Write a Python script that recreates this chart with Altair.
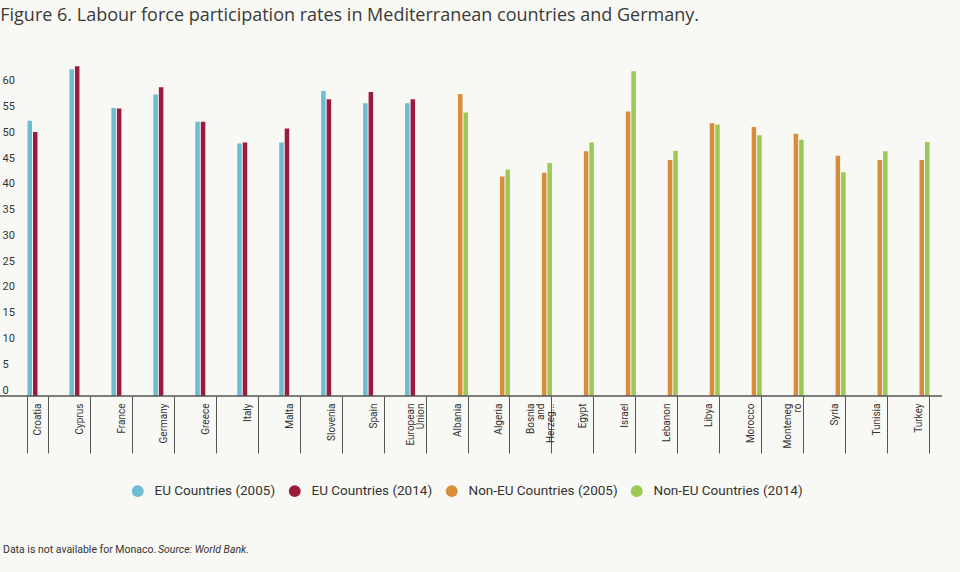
import altair as alt
import pandas as pd

# ---- data ----
countries = ["Croatia", "Cyprus", "France", "Germany", "Greece", "Italy", "Malta",
             "Slovenia", "Spain", "European|Union",
             "Albania", "Algeria", "Bosnia|and|Herzeg...", "Egypt", "Israel", "Lebanon",
             "Libya", "Morocco", "Monteneg|ro", "Syria", "Tunisia", "Turkey"]

eu_2005 = [53.4, 63.4, 55.9, 58.5, 53.2, 49.0, 49.2, 59.2, 56.8, 56.8] + [None] * 12
eu_2014 = [51.2, 64.0, 55.8, 59.9, 53.2, 49.2, 51.9, 57.6, 59.0, 57.6] + [None] * 12
noneu_2005 = [None] * 10 + [58.6, 42.6, 43.3, 47.5, 55.2, 45.8, 52.9, 52.2, 50.9, 46.6, 45.8, 45.8]
noneu_2014 = [None] * 10 + [55.0, 43.9, 45.2, 49.2, 63.0, 47.6, 52.7, 50.6, 49.7, 43.4, 47.5, 49.3]

series_names = ["EU Countries (2005)", "EU Countries (2014)",
                "Non-EU Countries (2005)", "Non-EU Countries (2014)"]
series_colors = ["#6dbcd1", "#9c1b3c", "#d98d3b", "#9cc856"]
y_ticks = list(range(0, 61, 5))

title_text = "Figure 6. Labour force participation rates in Mediterranean countries and Germany."
foot_parts = ["Data is not available for Monaco.", "Source: World Bank."]

rows = []
for name, vals in zip(series_names, [eu_2005, eu_2014, noneu_2005, noneu_2014]):
    for c, v in zip(countries, vals):
        if v is not None:
            rows.append({"country": c, "series": name, "value": v})
df = pd.DataFrame(rows)

FONT = "Roboto, sans-serif"
W, H = 923, 335
LH = 10

label_shift = {
    "condition": [
        {"test": "length(split(datum.value, '|')) == 2", "value": -LH / 2},
        {"test": "length(split(datum.value, '|')) == 3", "value": -LH},
    ],
    "value": 0,
}

bars = alt.Chart(df).mark_bar().encode(
    x=alt.X("country:N", sort=countries,
            scale=alt.Scale(domain=countries, paddingInner=0.5, paddingOuter=0.25),
            axis=alt.Axis(title=None, labelAngle=270, labelAlign="right", labelBaseline="middle",
                          labelExpr="split(datum.label, '|')", labelFont=FONT, labelFontSize=10,
                          labelColor="#333333", labelLineHeight=LH, labelOffset=label_shift,
                          bandPosition=1, tickExtra=True, tickSize=57, tickColor="#555555",
                          tickWidth=1, labelPadding=-50, domain=False, grid=False)),
    xOffset=alt.XOffset("series:N", scale=alt.Scale(domain=series_names, paddingInner=0.18)),
    y=alt.Y("value:Q", scale=alt.Scale(domain=[0, 65], nice=False),
            axis=alt.Axis(title=None, values=y_ticks, domain=False, ticks=False, grid=False,
                          labelAlign="left", labelPadding=15, labelFont=FONT, labelFontSize=11,
                          labelColor="#333333", labelBaseline="alphabetic", labelOffset=-3)),
    color=alt.Color("series:N", scale=alt.Scale(domain=series_names, range=series_colors),
                    legend=alt.Legend(title=None, orient="none", legendX=114, legendY=423,
                                      direction="horizontal", columns=4, symbolType="circle",
                                      symbolSize=140, symbolStrokeWidth=0, labelFont=FONT,
                                      labelFontSize=13.5, labelColor="#333333", labelOffset=10,
                                      columnPadding=12)),
)

baseline = alt.Chart(pd.DataFrame({"v": [0]})).mark_rule(color="#555555", strokeWidth=1.5).encode(
    x=alt.value(-17), x2=alt.value(W + 2), y=alt.value(H)
)

foot1 = alt.Chart(pd.DataFrame({"t": [foot_parts[0]]})).mark_text(
    align="left", baseline="middle", font="Roboto", fontSize=10.5, color="#333333"
).encode(text="t:N", x=alt.value(-14), y=alt.value(489))
foot2 = alt.Chart(pd.DataFrame({"t": [foot_parts[1]]})).mark_text(
    align="left", baseline="middle", font="Roboto", fontSize=10.5, color="#333333", fontStyle="italic"
).encode(text="t:N", x=alt.value(141), y=alt.value(489))

chart = alt.layer(bars, baseline, foot1, foot2).properties(
    width=W, height=H,
    title=alt.TitleParams(title_text, anchor="start", dx=1, offset=22, baseline="alphabetic",
                          font="Open Sans", fontSize=18, fontWeight="normal", color="#3a3a3a"),
    autosize=alt.AutoSizeParams(type="none"),
    padding={"left": 17, "top": 61, "right": 20, "bottom": 176},
    background="#f8f8f4",
).configure_view(stroke=None)

chart.save("out.html", embed_options={"renderer": "svg", "actions": False})
